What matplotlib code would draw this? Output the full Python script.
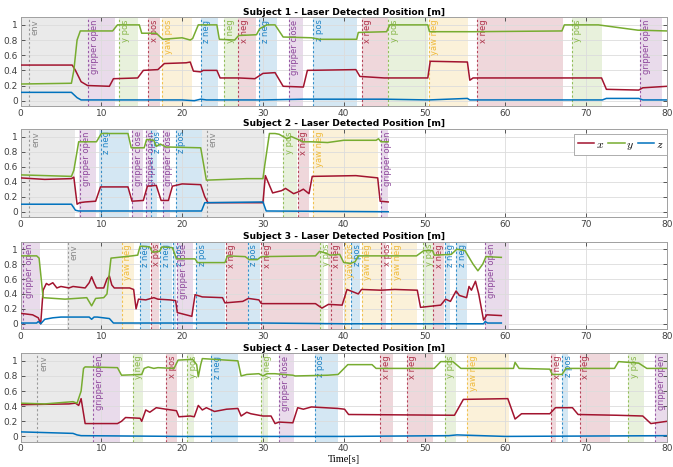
import matplotlib
matplotlib.use("Agg")
import matplotlib.pyplot as plt
import matplotlib.transforms as mtransforms

plt.rcParams["mathtext.fontset"] = "cm"

# ---------------- data ----------------
# Subject 1
s1_tx = [0, 6.4, 6.8, 7.5, 8.3, 11.0, 11.5, 14.5, 15.2, 17.0, 17.8, 20.5, 21.0, 21.4, 22.3, 22.6, 24.3, 24.7, 27.0, 29.0, 30.0, 31.5, 32.5, 35.0, 35.5, 41.5, 42.0, 45.0, 50.4, 50.7, 55.3, 55.6, 56.0, 71.9, 72.5, 76.5, 77.0, 80]
s1_x = [0.47, 0.47, 0.40, 0.25, 0.20, 0.19, 0.29, 0.30, 0.40, 0.41, 0.49, 0.50, 0.51, 0.39, 0.38, 0.40, 0.40, 0.30, 0.30, 0.29, 0.36, 0.37, 0.19, 0.18, 0.40, 0.41, 0.32, 0.30, 0.30, 0.52, 0.51, 0.27, 0.30, 0.30, 0.15, 0.14, 0.17, 0.19]
s1_ty = [0, 6.3, 6.6, 7.0, 7.4, 11.4, 12.0, 14.7, 15.0, 16.8, 17.6, 20.0, 21.0, 21.3, 22.0, 24.3, 24.6, 26.5, 27.0, 29.2, 29.6, 30.5, 31.5, 32.5, 36.0, 37.0, 41.6, 41.8, 45.3, 45.7, 50.4, 50.6, 56.0, 67.0, 67.3, 71.5, 76.4, 80]
s1_y = [0.22, 0.23, 0.40, 0.80, 0.92, 0.92, 1.00, 1.00, 0.89, 0.89, 0.81, 0.83, 0.80, 0.82, 1.00, 1.00, 0.81, 0.80, 0.86, 0.87, 0.95, 1.00, 1.00, 0.84, 0.83, 0.81, 0.81, 0.90, 0.91, 1.00, 1.00, 0.91, 0.91, 0.92, 1.00, 1.00, 0.93, 0.92]
s1_tz = [0, 6.3, 7.0, 7.5, 20, 21.5, 22.3, 23, 30, 35, 45, 50.5, 55.3, 55.6, 56, 67, 72, 72.5, 76.5, 77, 80]
s1_z = [0.11, 0.11, 0.04, 0.01, 0.01, 0.00, 0.02, 0.01, 0.01, 0.02, 0.02, 0.01, 0.03, 0.01, 0.01, 0.01, 0.01, 0.03, 0.03, 0.01, 0.01]
s1_seg_line = [1.0, 8.4, 12.2, 15.8, 17.5, 22.3, 25.2, 26.9, 29.5, 33.2, 36.2, 42.2, 45.5, 50.5, 56.5, 68.2, 76.7]
s1_seg_from = [0.0, 8.4, 12.2, 15.8, 17.5, 22.3, 25.2, 26.9, 29.5, 33.2, 36.2, 42.2, 45.5, 50.5, 56.5, 68.2, 76.7]
s1_seg_to = [8.4, 11.7, 14.5, 17.3, 21.2, 24.5, 26.9, 29.1, 31.8, 35.0, 41.7, 45.5, 50.4, 55.4, 67.1, 71.9, 79.4]
s1_seg_label = ["env", "gripper open", "y pos", "x pos", "yaw pos", "z neg", "y neg", "x neg", "z neg", "gripper close", "z pos", "x neg", "y pos", "yaw neg", "x neg", "y pos", "gripper open"]

# Subject 2
s2_tx = [0, 3, 6.3, 6.6, 7.0, 7.3, 8.0, 9.3, 9.9, 13.3, 13.8, 15.2, 15.7, 16.8, 17.4, 18.3, 18.8, 20.0, 22.3, 22.8, 23.2, 30.0, 30.3, 31.2, 32.3, 32.8, 33.8, 34.5, 35.0, 35.7, 36.1, 41.5, 44.2, 44.5, 45.5]
s2_x = [0.45, 0.43, 0.44, 0.46, 0.10, 0.12, 0.13, 0.14, 0.33, 0.33, 0.14, 0.15, 0.34, 0.35, 0.15, 0.15, 0.34, 0.37, 0.36, 0.20, 0.12, 0.12, 0.48, 0.25, 0.28, 0.31, 0.24, 0.27, 0.30, 0.24, 0.47, 0.48, 0.45, 0.14, 0.13]
s2_ty = [0, 6.3, 6.6, 7.2, 9.4, 10.0, 13.3, 13.7, 15.3, 15.6, 16.5, 16.8, 17.3, 18.0, 18.5, 22.3, 23.0, 28, 30.0, 30.2, 30.8, 31.5, 32.0, 33.0, 33.5, 35.0, 36.0, 38, 40, 44.0, 44.3, 44.6, 45.5]
s2_y = [0.49, 0.47, 0.55, 0.93, 0.93, 1.04, 1.04, 0.85, 0.85, 0.96, 0.95, 0.87, 0.90, 0.86, 0.86, 0.85, 0.42, 0.44, 0.44, 0.60, 1.04, 1.04, 1.03, 0.97, 1.00, 0.93, 0.93, 0.92, 0.95, 0.95, 0.97, 0.93, 0.93]
s2_tz = [0, 6.3, 6.8, 7.2, 10, 22.4, 22.8, 30.0, 30.4, 45.5]
s2_z = [0.10, 0.10, 0.02, 0.01, 0.01, 0.01, 0.12, 0.13, 0.01, 0.00]
s2_seg_line = [1.1, 7.4, 9.9, 13.85, 15.5, 16.2, 17.6, 19.2, 23.1, 32.5, 34.3, 36.2, 44.6]
s2_seg_from = [0.0, 7.3, 9.7, 13.85, 15.5, 16.2, 17.6, 19.2, 22.4, 32.5, 34.3, 36.2, 44.6]
s2_seg_to = [6.8, 9.4, 13.4, 15.2, 16.1, 16.9, 18.5, 22.4, 30.2, 34.2, 35.7, 44.2, 45.5]
s2_seg_label = ["env", "gripper open", "z neg", "gripper close", "gripper open", "z pos", "gripper close", "z pos", "env", "y pos", "x neg", "yaw neg", "gripper open"]

# Subject 3
s3_tx = [0, 1.5, 2.2, 2.5, 2.8, 3.2, 3.5, 4.0, 4.5, 5.0, 6.0, 6.5, 8.0, 8.5, 8.8, 9.1, 9.4, 10.3, 10.7, 11.0, 11.3, 11.6, 13.5, 14.0, 14.3, 14.6, 15.5, 16.5, 17.0, 18.5, 19.2, 19.4, 21.2, 21.6, 22.5, 25.0, 25.3, 27.5, 28.2, 29.5, 29.8, 36.5, 37.3, 38.1, 39.8, 40.4, 41.8, 42.2, 44.6, 46.3, 49.1, 49.5, 52.0, 52.6, 53.2, 53.9, 54.3, 55.2, 55.5, 55.8, 56.3, 56.7, 57.3, 57.7, 59.5]
s3_x = [0.14, 0.12, 0.08, 0.00, 0.45, 0.54, 0.52, 0.55, 0.48, 0.50, 0.48, 0.50, 0.48, 0.55, 0.63, 0.55, 0.48, 0.48, 0.60, 0.64, 0.52, 0.48, 0.48, 0.46, 0.20, 0.33, 0.32, 0.35, 0.33, 0.32, 0.31, 0.15, 0.10, 0.39, 0.36, 0.35, 0.28, 0.30, 0.34, 0.32, 0.27, 0.27, 0.21, 0.26, 0.25, 0.46, 0.40, 0.46, 0.45, 0.46, 0.45, 0.22, 0.25, 0.33, 0.30, 0.44, 0.38, 0.35, 0.50, 0.45, 0.57, 0.40, 0.05, 0.12, 0.11]
s3_ty = [0, 2.0, 2.3, 2.8, 5.5, 8.2, 8.8, 9.3, 10.3, 10.7, 11.2, 13.8, 14.5, 14.8, 16.0, 16.3, 17.2, 17.5, 18.8, 19.3, 21.6, 21.9, 25.3, 25.6, 27.8, 28.3, 29.3, 29.8, 36.5, 37.0, 37.7, 38.3, 39.5, 40.0, 40.8, 41.4, 41.8, 49.0, 49.9, 51.0, 51.2, 53.3, 54.0, 54.5, 55.0, 56.0, 56.6, 57.2, 57.6, 59.5]
s3_y = [0.91, 0.91, 0.88, 0.35, 0.33, 0.35, 0.24, 0.34, 0.35, 0.40, 0.88, 0.91, 0.92, 1.04, 1.03, 0.96, 0.97, 1.03, 1.02, 0.87, 0.87, 0.82, 0.82, 0.91, 0.90, 0.86, 0.86, 0.90, 0.91, 0.97, 0.95, 0.92, 0.93, 0.82, 0.81, 0.83, 0.91, 0.91, 0.98, 0.98, 0.92, 0.93, 1.00, 0.99, 0.98, 0.80, 0.71, 0.80, 0.90, 0.89]
s3_tz = [0, 2.0, 2.2, 2.5, 3.0, 4.0, 5.0, 8.5, 8.8, 9.1, 9.5, 11.0, 11.5, 30, 40, 57.3, 57.5, 57.8, 59.5]
s3_z = [0.01, 0.01, 0.03, 0.00, 0.06, 0.08, 0.09, 0.09, 0.06, 0.09, 0.09, 0.07, 0.01, 0.01, 0.00, 0.00, 0.03, 0.01, 0.01]
s3_seg_line = [0.35, 5.9, 12.5, 14.75, 16.1, 17.3, 18.9, 19.4, 21.75, 25.4, 28.1, 29.8, 37.1, 38.4, 40.1, 40.9, 42.2, 44.6, 45.9, 49.8, 51.1, 52.5, 53.9, 57.5]
s3_seg_from = [0.1, 5.7, 12.5, 14.75, 16.1, 17.3, 18.9, 19.4, 21.75, 25.4, 28.1, 29.8, 37.1, 38.1, 40.0, 40.9, 42.2, 44.6, 45.9, 49.8, 51.1, 52.5, 53.9, 57.5]
s3_seg_to = [2.4, 12.5, 14.1, 16.0, 17.2, 18.7, 19.3, 21.3, 25.3, 28.1, 29.6, 37.0, 37.6, 39.9, 40.8, 42.0, 44.6, 45.2, 49.1, 51.0, 52.4, 53.2, 55.3, 60.4]
s3_seg_label = ["gripper open", "env", "yaw neg", "z neg", "x pos", "z neg", "z pos", "gripper close", "z pos", "x neg", "z pos", "x neg", "y pos", "x neg", "yaw pos", "z pos", "yaw neg", "x pos", "yaw neg", "y pos", "x neg", "z neg", "z neg", "gripper open"]

# Subject 4
s4_tx = [0, 6.0, 6.8, 7.2, 7.5, 8.0, 12.0, 12.5, 13.0, 14.8, 15.0, 15.5, 16.0, 16.8, 18.0, 19.3, 19.6, 21.0, 21.5, 22.0, 22.5, 23.0, 24.0, 25.5, 26.9, 27.3, 28.0, 28.5, 30.0, 31.0, 31.5, 32.0, 33.7, 34.3, 35.0, 36.0, 39.3, 40.1, 40.6, 53.7, 54.8, 60.3, 61.2, 62.0, 65.5, 66.2, 68.3, 69.0, 73.8, 77.0, 78.0, 80]
s4_x = [0.42, 0.43, 0.44, 0.41, 0.50, 0.17, 0.17, 0.20, 0.25, 0.24, 0.20, 0.35, 0.32, 0.38, 0.36, 0.34, 0.26, 0.27, 0.26, 0.41, 0.35, 0.38, 0.33, 0.36, 0.37, 0.27, 0.32, 0.30, 0.27, 0.27, 0.17, 0.19, 0.18, 0.38, 0.36, 0.39, 0.37, 0.36, 0.29, 0.28, 0.49, 0.50, 0.23, 0.30, 0.30, 0.38, 0.38, 0.29, 0.28, 0.27, 0.17, 0.20]
s4_ty = [0, 3.0, 6.5, 7.0, 7.5, 7.8, 8.0, 12.0, 12.5, 15.0, 15.3, 15.8, 16.5, 17.0, 19.0, 19.5, 21.3, 21.8, 22.0, 22.3, 22.5, 26.9, 27.3, 28.0, 29.5, 30.0, 30.5, 31.5, 32.5, 33.7, 34.0, 38.0, 39.3, 40.5, 43.5, 44.0, 51.2, 52.0, 53.5, 54.5, 61.0, 61.2, 61.7, 65.5, 65.8, 67.0, 67.5, 73.5, 74.0, 76.5, 77.5, 80]
s4_y = [0.44, 0.43, 0.46, 0.44, 0.60, 0.90, 0.92, 0.91, 0.81, 0.82, 0.90, 0.92, 0.90, 0.91, 0.90, 1.01, 1.02, 0.95, 0.79, 0.95, 1.03, 1.00, 0.80, 0.82, 0.83, 0.80, 0.83, 0.83, 0.82, 0.81, 0.80, 0.81, 0.82, 0.95, 0.95, 0.90, 0.90, 0.99, 0.99, 0.90, 0.90, 0.98, 0.90, 0.89, 0.82, 0.82, 0.90, 0.90, 0.99, 0.97, 0.90, 0.90]
s4_tz = [0, 6.5, 7.0, 7.5, 20, 40, 53, 54, 60, 80]
s4_z = [0.06, 0.04, 0.02, 0.01, 0.00, 0.00, 0.01, 0.02, 0.00, 0.01]
s4_seg_line = [2.1, 9.0, 13.9, 18.0, 20.6, 23.6, 29.8, 32.0, 36.4, 44.5, 47.8, 52.5, 55.3, 65.7, 67.0, 69.2, 75.2, 78.5]
s4_seg_from = [0.0, 9.0, 13.9, 18.0, 20.6, 23.6, 29.8, 32.0, 36.4, 44.5, 47.8, 52.5, 55.3, 65.7, 67.0, 69.2, 75.2, 78.5]
s4_seg_to = [9.0, 12.3, 15.1, 19.4, 21.5, 26.9, 30.6, 33.8, 39.3, 46.1, 51.1, 53.9, 60.4, 66.3, 67.8, 73.0, 77.1, 80.0]
s4_seg_label = ["env", "gripper open", "y neg", "x pos", "y pos", "z neg", "y neg", "gripper close", "z pos", "x neg", "x neg", "y pos", "yaw neg", "x neg", "z pos", "x neg", "y pos", "gripper open"]

# ---------------- style ----------------
C_X = "#A2142F"
C_Y = "#77AC30"
C_Z = "#0072BD"
C_G = "#7E2F8E"
C_YAW = "#EDB120"
C_ENV = "#808080"


def seg_color(label):
    if label == "env":
        return C_ENV
    if label.startswith("gripper"):
        return C_G
    if label.startswith("yaw"):
        return C_YAW
    if label.startswith("x"):
        return C_X
    if label.startswith("y"):
        return C_Y
    return C_Z


subjects = [
    (s1_tx, s1_x, s1_ty, s1_y, s1_tz, s1_z, s1_seg_line, s1_seg_from, s1_seg_to, s1_seg_label),
    (s2_tx, s2_x, s2_ty, s2_y, s2_tz, s2_z, s2_seg_line, s2_seg_from, s2_seg_to, s2_seg_label),
    (s3_tx, s3_x, s3_ty, s3_y, s3_tz, s3_z, s3_seg_line, s3_seg_from, s3_seg_to, s3_seg_label),
    (s4_tx, s4_x, s4_ty, s4_y, s4_tz, s4_z, s4_seg_line, s4_seg_from, s4_seg_to, s4_seg_label),
]

W, H = 673, 467
fig = plt.figure(figsize=(W / 100, H / 100), dpi=100)

ax_left = 20.5 / W
ax_w = (667 - 20.5) / W
ax_tops = [17.3, 129.0, 241.7, 353.3]
ax_bots = [106.0, 217.0, 329.0, 441.7]

for i, (tx, xv, ty, yv, tz, zv, sl, sf, st, lab) in enumerate(subjects):
    b = 1 - ax_bots[i] / H
    h = (ax_bots[i] - ax_tops[i]) / H
    ax = fig.add_axes([ax_left, b, ax_w, h])
    ax.set_xlim(0, 80)
    ax.set_ylim(-0.07, 1.1)

    trans = mtransforms.offset_copy(ax.get_xaxis_transform(), fig=fig, x=1.2, y=0, units="points")
    for lt, a, e, name in zip(sl, sf, st, lab):
        c = seg_color(name)
        ax.axvspan(a, e, color=c, alpha=0.17 if name != "env" else 0.16, lw=0, zorder=0.5)
        ax.axvline(lt, color=c, lw=0.8, ls=(0, (2, 2)), alpha=0.75, zorder=0.8)
        ax.text(lt, 0.975, name, transform=trans, rotation=90, ha="left", va="top",
                fontsize=6.0, color=c, alpha=0.85 if name != "env" else 0.9, zorder=2,
                clip_on=True)

    lx, = ax.plot(tx, xv, color=C_X, lw=1.1, zorder=3, label=r"$x$")
    ly, = ax.plot(ty, yv, color=C_Y, lw=1.1, zorder=3, label=r"$y$")
    lz, = ax.plot(tz, zv, color=C_Z, lw=1.1, zorder=3, label=r"$z$")

    ax.set_xticks(range(0, 81, 10))
    ax.set_yticks([0, 0.2, 0.4, 0.6, 0.8, 1.0])
    ax.set_yticklabels(["0", "0.2", "0.4", "0.6", "0.8", "1"])
    ax.grid(True, color="#dcdcdc", lw=0.6, zorder=0)
    ax.set_axisbelow(True)
    ax.tick_params(direction="in", length=3, width=0.6, labelsize=6.5, colors="#404040",
                   top=True, right=True, pad=2)
    for sp in ax.spines.values():
        sp.set_color("#a0a0a0")
        sp.set_linewidth(0.7)
    ax.set_title("Subject %d - Laser Detected Position [m]" % (i + 1), fontsize=6.6,
                 fontweight="bold", pad=2)

    if i == 1:
        leg = ax.legend(handles=[lx, ly, lz], loc="upper right", ncol=3, fontsize=8.5,
                        handlelength=1.4, handletextpad=0.15, columnspacing=0.3,
                        fancybox=False, framealpha=1, edgecolor="#a0a0a0",
                        borderpad=0.3, borderaxespad=0.0, bbox_to_anchor=(1.0, 0.943))
        leg.get_frame().set_linewidth(0.6)
        leg.set_zorder(5)
    if i == 3:
        ax.set_xlabel("Time[s]", fontsize=7.5, family="Liberation Serif", labelpad=1)

fig.savefig("out.png", dpi=100)
